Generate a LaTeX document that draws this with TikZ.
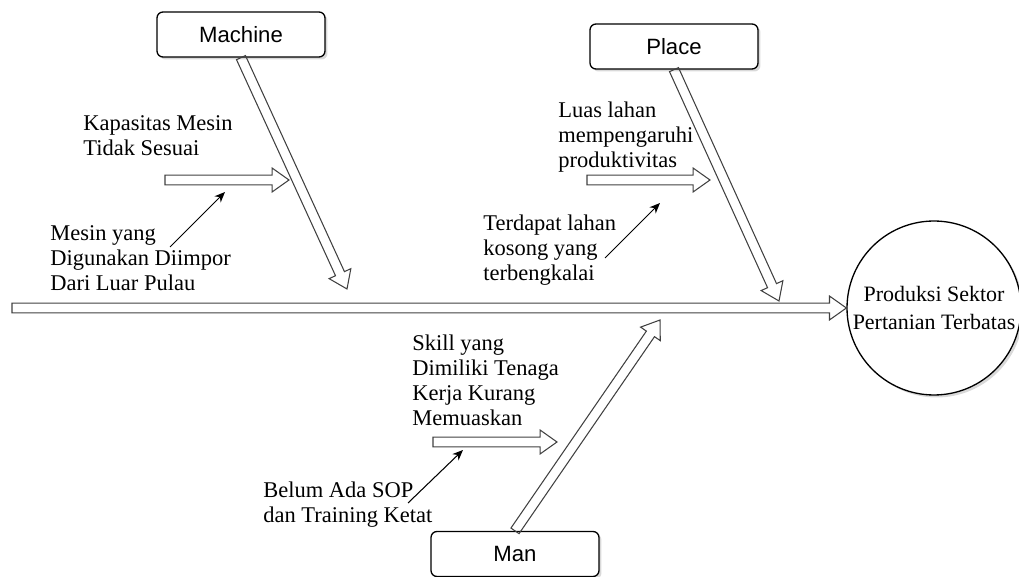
\documentclass[tikz,border=0pt]{standalone}
\usepackage{fontspec}
\setmainfont{Liberation Serif}
\setsansfont{Liberation Sans}
\usetikzlibrary{arrows.meta,calc,shadows}

% hollow block arrow from #1 to #2
\newcommand\fatarrow[2]{%
  \coordinate (fh) at ($(#2)!9.6pt!(#1)$);
  \draw[bone] ($(#1)!2.8pt!90:(#2)$) -- ($(fh)!2.8pt!90:(#2)$)
    -- ($(fh)!6.8pt!90:(#2)$) -- (#2) -- ($(fh)!6.8pt!-90:(#2)$)
    -- ($(fh)!2.8pt!-90:(#2)$) -- ($(#1)!2.8pt!-90:(#2)$) -- cycle;
}

\begin{document}
\begin{tikzpicture}[x=0.02cm, y=-0.02cm,
  cat/.style={draw, line width=.75pt, rounded corners=.12cm, fill=white,
    minimum width=3.36cm, minimum height=.9cm, font=\sffamily\fontsize{12.6}{14}\selectfont,
    drop shadow={shadow xshift=.05cm, shadow yshift=-.05cm, opacity=.3}},
  cause/.style={anchor=north west, align=left, inner sep=0pt,
    font=\fontsize{12.8}{14.2}\selectfont},
  bone/.style={draw=black!75, line width=.6pt},
  hint/.style={line width=.6pt, -{Stealth[length=6pt, width=5pt]}}]
\useasboundingbox (0,0) rectangle (1019,577);
\node[cat] (machine) at (241,34.5) {Machine};
\node[cat] (place) at (674,46.5) {Place};
\node[cat] (man) at (515,554) {Man};
\node[circle, draw, fill=white, line width=.75pt, minimum size=3.48cm, align=center,
  inner sep=0pt, font=\fontsize{12.5}{15.9}\selectfont,
  drop shadow={shadow xshift=.05cm, shadow yshift=-.05cm, opacity=.3}]
  (goal) at (934,308) {Produksi Sektor\\Pertanian Terbatas};
\foreach \n/\x/\y in {tail/12/308, mtip/347/289, ptip/779/301, ntip/660/320,
    ms/165/180, me/289/180, ps/587/180, pe/710/180, ns/433/442, ne/557/442,
    ma/170/247, mb/225/192, pa/605/258, pb/660/203, na/408/503, nb/463/450}{
    \coordinate (\n) at (\x,\y);
}
\foreach \a/\b in {tail/goal.west, machine.south/mtip, place.south/ptip,
    man.north/ntip, ms/me, ps/pe, ns/ne}{
    \fatarrow{\a}{\b}
}
\foreach \a/\b in {ma/mb, pa/pb, na/nb}{
    \draw[hint] (\a) -- (\b);
}
\foreach \n/\x/\y/\txt in {kapasitas/83/115/Kapasitas Mesin\\Tidak Sesuai,
    impor/50/225/Mesin yang\\Digunakan Diimpor\\Dari Luar Pulau,
    luas/558/102/Luas lahan\\mempengaruhi\\produktivitas,
    kosong/483/215/Terdapat lahan\\kosong yang\\terbengkalai,
    skill/412/335/Skill yang\\Dimiliki Tenaga\\Kerja Kurang\\Memuaskan,
    sop/263/482/Belum Ada SOP\\dan Training Ketat}{
    \node[cause] (\n) at (\x,\y) {\txt};
}
\end{tikzpicture}
\end{document}
